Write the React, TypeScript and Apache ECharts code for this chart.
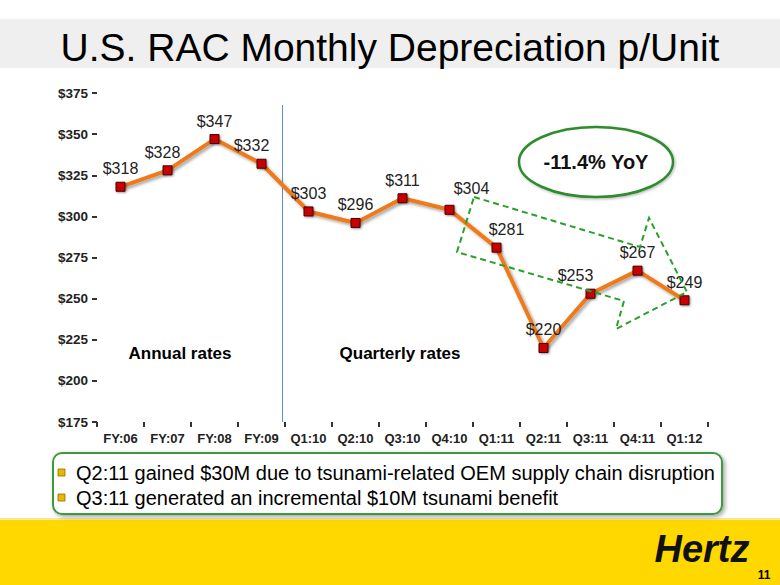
import React, { useEffect, useRef } from "react";
import * as echarts from "echarts";

const categories = ["FY:06", "FY:07", "FY:08", "FY:09", "Q1:10", "Q2:10", "Q3:10", "Q4:10", "Q1:11", "Q2:11", "Q3:11", "Q4:11", "Q1:12"];
const values = [318, 328, 347, 332, 303, 296, 311, 304, 281, 220, 253, 267, 249];
const labelOffsets: [number, number][] = [[0, 0], [-5, 0], [0, 0], [-10, 0], [0, 0], [0, 0], [0, 0], [22, -3], [10, 0], [0, 0], [-15, 0], [0, 0], [0, 0]];
const bullets = [
  "Q2:11 gained $30M due to tsunami-related OEM supply chain disruption",
  "Q3:11 generated an incremental $10M tsunami benefit",
];
const FONT = "'Liberation Sans', Arial, Helvetica, sans-serif";

export default function App() {
  const ref = useRef<HTMLDivElement>(null);
  useEffect(() => {
    if (!ref.current) return;
    const chart = echarts.init(ref.current, null, { renderer: "svg" });
    const data = values.map((v, i) => ({
      value: v,
      label: { offset: labelOffsets[i] },
    }));
    const shadow = { shadowColor: "rgba(0,0,0,0.35)", shadowBlur: 3, shadowOffsetX: 2, shadowOffsetY: 2 };
    const staticGraphics: any[] = [
      { type: "rect", shape: { x: 0, y: 19, width: 780, height: 49 }, style: { fill: "#efefef" }, z: 0 },
      { type: "text", x: 390, y: 47, style: { text: "U.S. RAC Monthly Depreciation p/Unit", font: `39px ${FONT}`, fill: "#000", align: "center", verticalAlign: "middle" }, z: 5 },
      { type: "rect", shape: { x: 0, y: 519, width: 780, height: 66 }, style: { fill: "#ffd800" }, z: 0 },
      { type: "rect", shape: { x: 0, y: 518, width: 780, height: 2 }, style: { fill: "#f2e8a0" }, z: 0 },
      { type: "text", x: 702, y: 549, style: { text: "Hertz", font: `italic bold 38px ${FONT}`, fill: "#111", align: "center", verticalAlign: "middle" }, z: 5 },
      { type: "text", x: 764, y: 575, style: { text: "11", font: `bold 12px ${FONT}`, fill: "#000", align: "center", verticalAlign: "middle" }, z: 5 },
      { type: "rect", shape: { x: 53, y: 453, width: 669, height: 61, r: 9 }, style: { fill: "#fff", stroke: "#3a9a3a", lineWidth: 2, shadowColor: "rgba(0,0,0,0.35)", shadowBlur: 4, shadowOffsetX: 2, shadowOffsetY: 2 }, z: 1 },
      ...bullets.flatMap((b, i) => [
        { type: "rect", shape: { x: 58, y: 469 + i * 25, width: 7, height: 7 }, style: { fill: "#e6b800", stroke: "#8a6d00", lineWidth: 0.8 }, z: 5 },
        { type: "text", x: 76, y: 473 + i * 25, style: { text: b, font: `20px ${FONT}`, fill: "#000", verticalAlign: "middle" }, z: 5 },
      ]),
      { type: "text", x: 180, y: 353, style: { text: "Annual rates", font: `bold 17px ${FONT}`, fill: "#000", align: "center", verticalAlign: "middle" }, z: 5 },
      { type: "text", x: 400, y: 353, style: { text: "Quarterly rates", font: `bold 17px ${FONT}`, fill: "#000", align: "center", verticalAlign: "middle" }, z: 5 },
      { type: "ellipse", shape: { cx: 596, cy: 162, rx: 77, ry: 35 }, style: { fill: "#fff", stroke: "#2e8b2e", lineWidth: 2.5, shadowColor: "rgba(0,0,0,0.3)", shadowBlur: 3, shadowOffsetX: 1, shadowOffsetY: 1 }, z: 5 },
      { type: "text", x: 596, y: 162, style: { text: "-11.4% YoY", font: `bold 20px ${FONT}`, fill: "#111", align: "center", verticalAlign: "middle" }, z: 6 },
      { type: "polygon", shape: { points: [[474, 197], [640, 247], [649, 218], [687, 292], [616, 329], [624, 301], [457, 252]] }, style: { fill: "none", stroke: "#2aa02a", lineWidth: 2, lineDash: [6, 4] }, z: 8 },
    ];
    chart.setOption({
      animation: false,
      backgroundColor: "#fff",
      grid: { left: 97, right: 72, top: 93, bottom: 163 },
      xAxis: {
        type: "category",
        data: categories,
        boundaryGap: true,
        axisLine: { lineStyle: { color: "#333", width: 2, ...shadow } },
        axisTick: { show: true, length: 5, lineStyle: { color: "#333", width: 2 } },
        axisLabel: { color: "#222", fontSize: 13, fontWeight: "bold", fontFamily: FONT, margin: 10, interval: 0 },
        splitLine: { show: false },
      },
      yAxis: {
        type: "value",
        min: 175,
        max: 375,
        interval: 25,
        axisLine: { show: true, lineStyle: { color: "#333", width: 2, ...shadow } },
        axisTick: { show: true, length: 5, lineStyle: { color: "#333", width: 2 } },
        axisLabel: { color: "#222", fontSize: 13.5, fontWeight: "bold", fontFamily: FONT, margin: 9, formatter: (v: number) => "$" + v },
        splitLine: { show: false },
      },
      series: [
        {
          type: "line",
          data,
          symbol: "rect",
          symbolSize: 9,
          lineStyle: { color: "#ee7a1c", width: 4, shadowColor: "rgba(0,0,0,0.35)", shadowBlur: 3, shadowOffsetX: 2, shadowOffsetY: 2 },
          itemStyle: { color: "#c80000", borderColor: "#4a0000", borderWidth: 1, shadowColor: "rgba(0,0,0,0.4)", shadowBlur: 2, shadowOffsetX: 1, shadowOffsetY: 1 },
          label: { show: true, position: "top", distance: 5, fontSize: 16, color: "#222", fontFamily: FONT, formatter: (p: any) => "$" + p.value },
          z: 3,
        },
      ],
      graphic: staticGraphics,
    });
    const x1 = chart.convertToPixel({ xAxisIndex: 0 }, categories[3]) as number;
    const x2 = chart.convertToPixel({ xAxisIndex: 0 }, categories[4]) as number;
    const yb = chart.convertToPixel({ yAxisIndex: 0 }, 175) as number;
    const xm = Math.round((x1 + x2) / 2) - 2.5;
    chart.setOption({
      graphic: [
        ...staticGraphics,
        { type: "line", shape: { x1: xm, y1: 105, x2: xm, y2: yb }, style: { stroke: "#5b8fd0", lineWidth: 1 }, z: 2 },
      ],
    });
    return () => chart.dispose();
  }, []);
  return <div ref={ref} style={{ position: "absolute", left: 0, top: 0, width: 780, height: 585 }} />;
}
